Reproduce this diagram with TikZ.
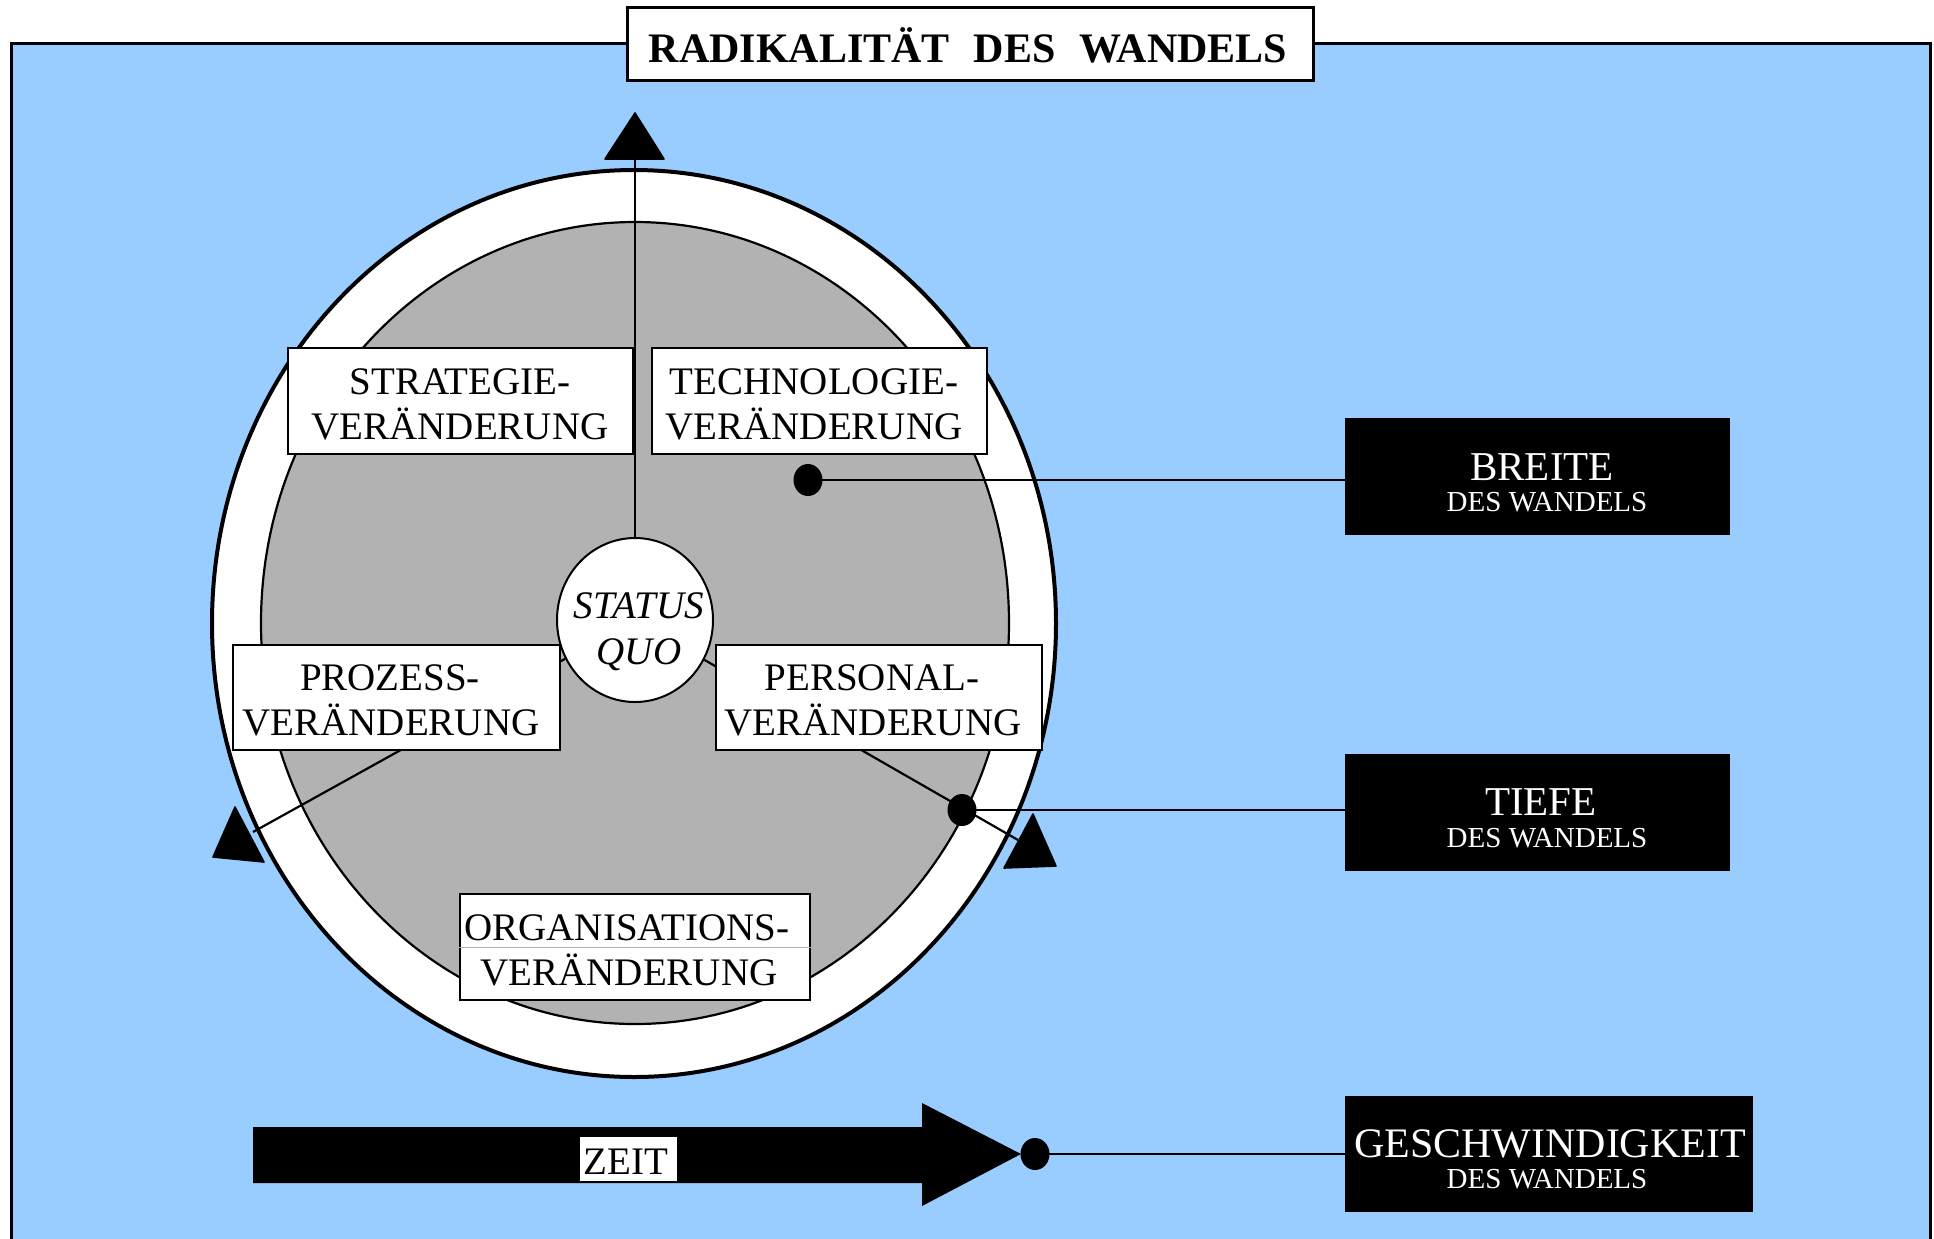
\documentclass[tikz,border=0pt]{standalone}
\usepackage{fontspec}
\setmainfont{Liberation Serif}
\usetikzlibrary{shapes.geometric}
\definecolor{bgblue}{RGB}{153,204,255}
\definecolor{ringgray}{RGB}{178,178,178}
\begin{document}
\begin{tikzpicture}[x=0.5pt,y=-0.5pt,
  cbox/.style={draw=black, fill=white, line width=1.4pt, inner sep=0pt},
  kbox/.style={fill=black, inner sep=0pt},
  btxt/.style={anchor=base, inner sep=0pt, font=\fontsize{19.5}{22.5}\selectfont},
  itxt/.style={anchor=base, inner sep=0pt, font=\fontsize{19.5}{22.5}\selectfont\itshape},
  wbig/.style={anchor=base, inner sep=0pt, text=white, font=\fontsize{20.5}{22}\selectfont},
  wsmall/.style={anchor=base, inner sep=0pt, text=white, font=\fontsize{14.5}{16}\selectfont},
  ln/.style={draw=black, line width=1.1pt},
  dotn/.style={ellipse, fill=black, minimum width=14.5pt, minimum height=16pt, inner sep=0pt},
  tri/.style={fill=black, draw=black, line width=0.8pt, line join=round}
]
\useasboundingbox (0,0) rectangle (1934,1238);
% background panel
\fill[bgblue] (11,43) rectangle (1930,1250);
\draw[line width=1.5pt] (11,1250) -- (11,43) -- (1930,43) -- (1930,1250);
% title
\node[cbox, line width=1.5pt, minimum width=343pt, minimum height=36.5pt] (title) at (970,43.5) {};
\node[anchor=base, inner sep=0pt, font=\fontsize{21}{24}\selectfont\bfseries] (titleT) at (968,62) {RADIKALITÄT\hspace{12pt}DES\hspace{12pt}WANDELS};
% rings
\draw[line width=2pt, fill=white] (634,623.5) ellipse [x radius=211pt, y radius=226.75pt];
\draw[line width=1.1pt, fill=ringgray] (635,623) ellipse [x radius=187pt, y radius=200.5pt];
% status quo
\node[ellipse, draw=black, fill=white, line width=1pt, minimum width=78pt, minimum height=82pt, inner sep=0pt] (sq) at (635,620) {};
\node[itxt] (sqT1) at (639,618) {STATUS};
\node[itxt] (sqT2) at (639,664) {QUO};
% axes
\coordinate (topA) at (635,159);
\coordinate (llA) at (253,832);
\coordinate (lrA) at (1018,840);
\draw[ln] (sq) -- (topA);
\draw[ln] (sq) -- (llA);
\draw[ln] (sq) -- (lrA);
\fill[tri] (635,113) -- (605,159) -- (664,159) -- cycle;
\fill[tri] (235,807) -- (213,857) -- (264,862) -- cycle;
\fill[tri] (1033,814) -- (1004,868) -- (1056,866) -- cycle;
% change boxes
\node[cbox, minimum width=172.5pt, minimum height=53pt] (strat) at (460.5,401) {};
\node[btxt] (stratT1) at (460,394) {STRATEGIE-};
\node[btxt] (stratT2) at (460,439) {VERÄNDERUNG};
\node[cbox, minimum width=167.5pt, minimum height=53pt] (tech) at (819.5,401) {};
\node[btxt] (techT1) at (814,394) {TECHNOLOGIE-};
\node[btxt] (techT2) at (814,439) {VERÄNDERUNG};
\node[cbox, minimum width=163.5pt, minimum height=52.5pt] (proz) at (396.5,697.5) {};
\node[btxt] (prozT1) at (390,690) {PROZESS-};
\node[btxt] (prozT2) at (391,735) {VERÄNDERUNG};
\node[cbox, minimum width=163pt, minimum height=52.5pt] (pers) at (879,697.5) {};
\node[btxt] (persT1) at (872,690) {PERSONAL-};
\node[btxt] (persT2) at (873,735) {VERÄNDERUNG};
\node[cbox, minimum width=175pt, minimum height=53pt] (orga) at (635,947) {};
\draw[gray!60, line width=0.4pt] (orga.west) -- (orga.east);
\node[btxt] (orgaT1) at (627,940) {ORGANISATIONS-};
\node[btxt] (orgaT2) at (629,985) {VERÄNDERUNG};
% right boxes
\node[kbox, minimum width=192.5pt, minimum height=58.5pt] (breite) at (1537.5,476.5) {};
\node[wbig] (breiteT1) at (1542,480) {BREITE};
\node[wsmall] (breiteT2) at (1547,511) {DES WANDELS};
\node[kbox, minimum width=192.5pt, minimum height=58.5pt] (tiefe) at (1537.5,812.5) {};
\node[wbig] (tiefeT1) at (1541,815) {TIEFE};
\node[wsmall] (tiefeT2) at (1547,847) {DES WANDELS};
\node[kbox, minimum width=204pt, minimum height=58pt] (gesch) at (1549,1154) {};
\node[wbig, font=\fontsize{21}{22}\selectfont] (geschT1) at (1550,1157) {GESCHWINDIGKEIT};
\node[wsmall] (geschT2) at (1547,1188) {DES WANDELS};
% dots and connectors
\node[dotn] (bdot) at (808,480) {};
\draw[ln] (bdot.center) -- (breite.west |- bdot.center);
\node[dotn] (tdot) at (962,810) {};
\draw[ln] (tdot.center) -- (tiefe.west |- tdot.center);
% time arrow
\fill[black] (253,1127) -- (922,1127) -- (922,1103) -- (1021,1154) -- (922,1206) -- (922,1183) -- (253,1183) -- cycle;
\node[fill=white, inner sep=0pt, minimum width=48.5pt, minimum height=22pt] (zeit) at (628.5,1159) {};
\node[btxt] (zeitT) at (626,1174) {ZEIT};
\node[dotn] (zdot) at (1035,1154) {};
\draw[ln] (zdot.center) -- (gesch.west |- zdot.center);
\end{tikzpicture}
\end{document}
